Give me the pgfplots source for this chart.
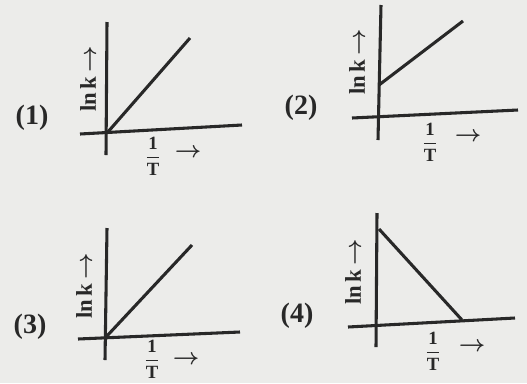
\documentclass[border=0pt]{standalone}
\usepackage{pgfplots}
\pgfplotsset{compat=1.18}
\usepackage{amsmath}
\usepackage{fontspec}
\setmainfont{Liberation Serif}
\definecolor{paper}{RGB}{236,236,234}
\definecolor{inkc}{RGB}{40,40,40}

\pgfplotsset{
  mini/.style={
    x=0.75pt, y=0.75pt,
    xmin=-30, xmax=140, ymin=-25, ymax=115,
    hide axis, clip=false,
    anchor=south west,
  },
  stroke/.style={draw=inkc, line width=2.3pt, no marks},
}
\newcommand{\lnk}{\textbf{ln\,k\,$\boldsymbol{\rightarrow}$}}
\newcommand{\invT}{$\dfrac{\textbf{1}}{\textbf{T}}$}

\begin{document}
\begin{tikzpicture}
\fill[paper] (0,0) rectangle (395.25pt,-287.25pt);

% (1)
\begin{axis}[mini, at={(57.75pt,-118.5pt)}]
  \addplot[stroke] coordinates {(-27,-1) (135,8)};
  \addplot[stroke] coordinates {(-1,-22) (0,111)};
  \addplot[stroke] coordinates {(0,0) (83,95)};
\end{axis}
% (2)
\begin{axis}[mini, at={(261.75pt,-106.5pt)}]
  \addplot[stroke] coordinates {(-27,-1) (139,7)};
  \addplot[stroke] coordinates {(-1,-23) (2,112)};
  \addplot[stroke] coordinates {(0,32) (84,96)};
\end{axis}
% (3)
\begin{axis}[mini, at={(57pt,-271.5pt)}]
  \addplot[stroke] coordinates {(-28,-2) (134,5)};
  \addplot[stroke] coordinates {(-1,-23) (1,109)};
  \addplot[stroke] coordinates {(0,0) (86,92)};
\end{axis}
% (4)
\begin{axis}[mini, at={(260.25pt,-262.5pt)}]
  \addplot[stroke] coordinates {(-29,-2) (138,7)};
  \addplot[stroke] coordinates {(-1,-22) (0,112)};
  \addplot[stroke] coordinates {(2,96) (85,5)};
\end{axis}

\begin{scope}[x=0.75pt, y=-0.75pt, every node/.style={text=inkc, inner sep=0pt}]
  \node[font=\fontsize{21}{24}\selectfont\bfseries] at (32,118) {(1)};
  \node[font=\fontsize{21}{24}\selectfont\bfseries] at (301,108) {(2)};
  \node[font=\fontsize{21}{24}\selectfont\bfseries] at (30,327) {(3)};
  \node[font=\fontsize{21}{24}\selectfont\bfseries] at (297,316) {(4)};
  \node[rotate=90, font=\fontsize{17}{20}\selectfont] at (88,79) {\lnk};
  \node[rotate=90, font=\fontsize{17}{20}\selectfont] at (357,62) {\lnk};
  \node[rotate=90, font=\fontsize{17}{20}\selectfont] at (84,286) {\lnk};
  \node[rotate=90, font=\fontsize{17}{20}\selectfont] at (353,272) {\lnk};
  \node[font=\fontsize{14}{16}\selectfont] at (153,156) {\invT};
  \node[font=\fontsize{14}{16}\selectfont] at (430,142) {\invT};
  \node[font=\fontsize{14}{16}\selectfont] at (152,359) {\invT};
  \node[font=\fontsize{14}{16}\selectfont] at (433,351) {\invT};
  \node[font=\fontsize{18}{20}\selectfont] at (188,153) {$\boldsymbol{\rightarrow}$};
  \node[font=\fontsize{18}{20}\selectfont] at (468,137) {$\boldsymbol{\rightarrow}$};
  \node[font=\fontsize{18}{20}\selectfont] at (186,360) {$\boldsymbol{\rightarrow}$};
  \node[font=\fontsize{18}{20}\selectfont] at (472,347) {$\boldsymbol{\rightarrow}$};
\end{scope}
\end{tikzpicture}
\end{document}
